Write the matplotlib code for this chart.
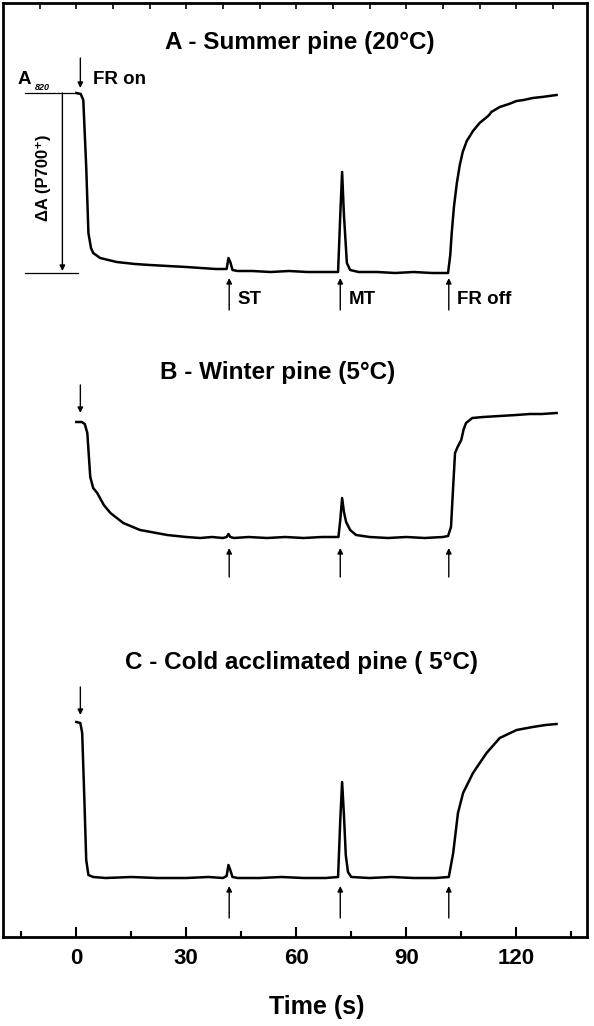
import numpy as np
import matplotlib
matplotlib.use("Agg")
import matplotlib.pyplot as plt
from matplotlib.ticker import MultipleLocator

plt.rcParams['font.family'] = ['Liberation Sans', 'DejaVu Sans']
plt.rcParams['font.weight'] = 'bold'

# signal (arbitrary units, drawn downward = lower A820)
# A - summer pine
t_a = [0, 1.2, 1.9, 2.7, 3.3, 4.0, 4.6, 6.5, 11, 16, 20, 25, 30, 34, 38, 41.0, 41.5, 42.0,
       42.6, 44, 48, 53, 58, 63, 68, 71.4, 72.0, 72.5, 73.0, 73.8, 74.7, 77, 82, 87, 92,
       97, 101.4, 102.0, 102.4, 103.0, 103.8, 104.6, 105.4, 106.5, 108.2, 110, 112, 112.6,
       113.2, 115.5, 118, 120.1, 122, 124.5, 127, 129, 131]
s_a = [93, 94, 100, 167, 233, 248, 253, 258, 262, 264, 265, 266, 267, 268, 269, 269, 258, 262,
       270, 271, 271, 272, 271, 272, 272, 272, 215, 172, 215, 263, 270, 272, 272, 273, 272,
       273, 273, 255, 233, 207, 183, 165, 152, 141, 131, 123, 117, 115,
       112, 107, 104, 101, 100, 98, 97, 96, 95]

# B - winter pine
t_b = [0, 1.5, 2.3, 3.0, 3.8, 4.6, 5.7, 7.5, 9.3, 12.8, 17.4, 24.8, 30, 33.8, 37, 40, 41.0,
       41.5, 42.0, 43, 47, 52, 57, 62, 67, 71.5, 72.0, 72.5, 73.0, 73.6, 74.7, 76.3, 80,
       85, 90, 95, 100, 101.4, 102.2, 102.7, 103.3, 104.0, 105.0, 105.6, 106.3, 108, 111,
       115.5, 120, 123.7, 127, 131]
s_b = [422, 422, 424, 433, 477, 488, 493, 505, 513, 523, 530, 535, 537, 538, 537, 538, 537,
       534, 537, 538, 537, 538, 537, 538, 537, 537, 520, 498, 512, 522, 530, 535, 537,
       538, 537, 538, 537, 536, 527, 493, 453, 447, 440, 430, 423, 418, 417,
       416, 415, 414, 414, 413]

# C - cold acclimated pine
t_c = [0, 1.1, 1.6, 2.2, 2.7, 3.3, 4.6, 8, 15, 22, 30, 36, 40, 41.0, 41.5, 42.0, 42.6, 44,
       50, 56, 62, 68, 71.4, 72.0, 72.5, 73.0, 73.5, 74.1, 75, 80, 86, 92, 98, 101.6, 102.8,
       104.1, 105.5, 108.2, 111.9, 115.5, 120.1, 124.5, 128, 131]
s_c = [722, 723, 733, 800, 860, 875, 877, 878, 877, 878, 878, 877, 878, 876, 865, 870, 877, 878,
       878, 877, 878, 878, 877, 820, 782, 815, 855, 872, 877, 878, 877, 878, 878, 877, 853,
       813, 793, 773, 753, 738, 730, 727, 725, 724]

titles = ["A - Summer pine (20°C)", "B - Winter pine (5°C)", "C - Cold acclimated pine ( 5°C)"]
title_t = [24.3, 22.9, 13.4]
title_y = [43, 372, 663]

fr_on_t = 1.1
flash_t = [41.7, 72.0, 101.6]   # ST, MT, FR off
flash_lbl = ["ST", "MT", "FR off"]

fig = plt.figure(figsize=(5.94, 10.26), dpi=100)
ax = fig.add_axes([3 / 594, 89 / 1026, 584 / 594, 934 / 1026])
ax.set_xlim(-20, 139.3)
ax.set_ylim(937, 3)

for t, s in [(t_a, s_a), (t_b, s_b), (t_c, s_c)]:
    ax.plot(t, s, color='black', lw=1.8, solid_joinstyle='round')

for i in range(3):
    ax.text(title_t[i], title_y[i], titles[i], fontsize=17.5, fontweight='bold',
            ha='left', va='center')

arr = dict(arrowstyle='-|>', color='black', lw=1.0, mutation_scale=8, shrinkA=0, shrinkB=0)
# FR on arrows (down)
for y0, y1 in [(58, 88), (385, 413), (687, 715)]:
    ax.annotate('', xy=(fr_on_t, y1), xytext=(fr_on_t, y0), arrowprops=arr)
# flash arrows (up)
for tip, tail in [(278, 310), (548, 577), (886, 918)]:
    for ft in flash_t:
        ax.annotate('', xy=(ft, tip), xytext=(ft, tail), arrowprops=arr)

ax.text(4.6, 80, "FR on", fontsize=13.5, fontweight='bold', ha='left', va='center')
for ft, lbl in zip(flash_t, flash_lbl):
    ax.text(ft + 2.2, 300, lbl, fontsize=13.5, fontweight='bold', ha='left', va='center')

# delta A bracket
ax.plot([-13.9, 0.3], [93, 93], color='black', lw=0.9)
ax.plot([-13.9, 0.5], [273, 273], color='black', lw=0.9)
ax.annotate('', xy=(-3.8, 271), xytext=(-3.8, 93), arrowprops=arr)
ax.text(-16, 80, "A", fontsize=13.5, fontweight='bold', ha='left', va='center')
ax.text(-11.3, 88, "820", fontsize=6.5, fontweight='bold', style='italic', ha='left', va='center')
ax.text(-9.0, 178, "ΔA (P700⁺)", fontsize=12, fontweight='bold', rotation=90,
        ha='center', va='center')

# axes styling
for sp in ax.spines.values():
    sp.set_linewidth(2)
ax.set_yticks([])
ax.xaxis.set_major_locator(MultipleLocator(30))
ax.xaxis.set_minor_locator(MultipleLocator(15))
ax.tick_params(axis='x', which='major', direction='in', length=7, width=1.5,
               labelsize=16, pad=8)
ax.tick_params(axis='x', which='minor', direction='in', length=4, width=1.5)
for lab in ax.get_xticklabels():
    lab.set_fontweight('bold')

top = ax.secondary_xaxis('top')
top.set_xticks(np.arange(-10, 140, 10))
top.tick_params(direction='in', length=4, width=1.2, labeltop=False)
top.set_xticklabels([])

ax.text(65.5, 1007, "Time (s)", fontsize=18, fontweight='bold', ha='center', va='center',
        transform=ax.transData, clip_on=False)
ax.set_ylim(937, 3)

fig.savefig("out.png", dpi=100)
